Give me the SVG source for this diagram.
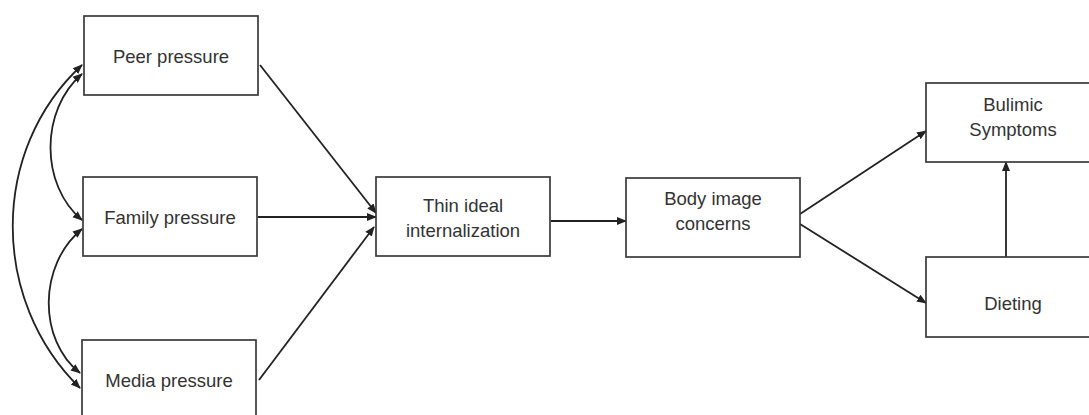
<svg xmlns="http://www.w3.org/2000/svg" width="1089" height="415" viewBox="0 0 1089 415">
<style>
.box{fill:#fff;stroke:#3a3a3a;stroke-width:1.7}
.lbl{font-family:"Liberation Sans",Arial,sans-serif;font-size:18.5px;fill:#333;text-anchor:middle}
.c{fill:none;stroke:#222;stroke-width:1.8}
</style>
<defs>
<marker id="ah" viewBox="0 0 10 10" refX="9" refY="5" markerWidth="10" markerHeight="10" markerUnits="userSpaceOnUse" orient="auto-start-reverse">
<path d="M0,1 L10,5 L0,9 z" fill="#222"/>
</marker>
</defs>
<rect width="1089" height="415" fill="#fff"/>
<g id="connectors">
<path class="c" d="M260,65 L376,213" marker-end="url(#ah)"/>
<path class="c" d="M258,217 L376,217" marker-end="url(#ah)"/>
<path class="c" d="M259,380 L374,227" marker-end="url(#ah)"/>
<path class="c" d="M551,221 L626,221" marker-end="url(#ah)"/>
<path class="c" d="M800,214 L926,131" marker-end="url(#ah)"/>
<path class="c" d="M800,224 L926,303" marker-end="url(#ah)"/>
<path class="c" d="M1006,257 L1006,162" marker-end="url(#ah)"/>
<path class="c" d="M82,74 C40,110 40,185 82,220" marker-start="url(#ah)" marker-end="url(#ah)"/>
<path class="c" d="M82,229 C38,265 38,340 80,373" marker-start="url(#ah)" marker-end="url(#ah)"/>
<path class="c" d="M82,65 C-10,150 -10,300 80,388" marker-start="url(#ah)" marker-end="url(#ah)"/>
</g>
<g id="peer"><rect class="box" x="84" y="16" width="174" height="79"/><text class="lbl" x="171" y="63">Peer pressure</text></g>
<g id="family"><rect class="box" x="83" y="177" width="174" height="79"/><text class="lbl" x="170" y="224">Family pressure</text></g>
<g id="media"><rect class="box" x="82" y="340" width="174" height="90"/><text class="lbl" x="169" y="387">Media pressure</text></g>
<g id="thin"><rect class="box" x="376" y="177" width="174" height="79"/><text class="lbl" x="463" y="212">Thin ideal</text><text class="lbl" x="463" y="237">internalization</text></g>
<g id="body"><rect class="box" x="626" y="178" width="174" height="79"/><text class="lbl" x="713" y="205">Body image</text><text class="lbl" x="713" y="230">concerns</text></g>
<g id="bulimic"><rect class="box" x="926" y="83" width="174" height="79"/><text class="lbl" x="1013" y="111">Bulimic</text><text class="lbl" x="1013" y="136">Symptoms</text></g>
<g id="dieting"><rect class="box" x="926" y="257" width="174" height="80"/><text class="lbl" x="1013" y="310">Dieting</text></g>
</svg>
